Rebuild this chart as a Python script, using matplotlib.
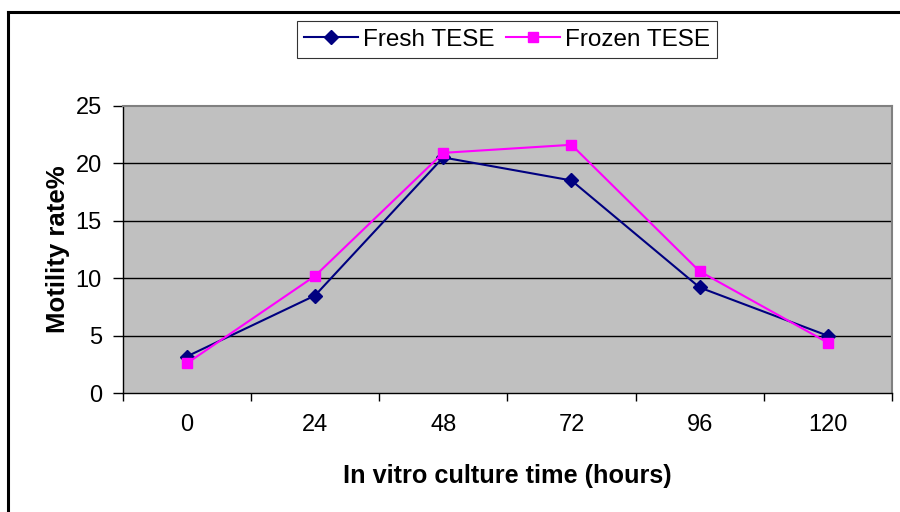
import matplotlib
matplotlib.use("Agg")
import matplotlib.pyplot as plt
from matplotlib.lines import Line2D

hours = ["0", "24", "48", "72", "96", "120"]
fresh = [3.2, 8.5, 20.5, 18.5, 9.2, 5.0]
frozen = [2.6, 10.2, 20.9, 21.6, 10.6, 4.4]
yticks = [0, 5, 10, 15, 20, 25]

plt.rcParams['font.family'] = ['Liberation Sans', 'DejaVu Sans']


def main():
    fig = plt.figure(figsize=(9, 5.12), dpi=100)
    ax = fig.add_axes([0.1363, 0.2318, 0.8548, 0.5618])
    ax.set_facecolor("#c0c0c0")

    x = list(range(len(hours)))
    ax.plot(x, fresh, color="#000080", marker="D", markersize=7.5, lw=1.5,
            label="Fresh TESE", zorder=3)
    ax.plot(x, frozen, color="#ff00ff", marker="s", markersize=7.5, lw=1.5,
            label="Frozen TESE", zorder=3)

    ax.set_xlim(-0.5, len(hours) - 0.5)
    ax.set_ylim(0, 25)
    ax.set_yticks(yticks)
    ax.set_yticklabels([str(t) for t in yticks], fontsize=17)
    for t in yticks[1:-1]:
        ax.axhline(t, color="black", lw=1.0, zorder=1)

    # category ticks sit between the categories
    ax.set_xticks([i - 0.5 for i in range(len(hours) + 1)])
    ax.set_xticklabels([])
    ax.set_xticks(x, minor=True)
    ax.set_xticklabels(hours, minor=True, fontsize=17)
    ax.tick_params(axis="x", which="minor", length=0, pad=15)
    ax.tick_params(axis="x", which="major", length=6, width=1, color="black")
    ax.tick_params(axis="y", length=7, width=1, color="black", pad=8)

    for side in ["left", "bottom"]:
        ax.spines[side].set_color("black")
        ax.spines[side].set_linewidth(1)
    for side in ["top", "right"]:
        ax.spines[side].set_color("#808080")
        ax.spines[side].set_linewidth(1.5)

    ax.set_xlabel("In vitro culture time (hours)", fontsize=18.2,
                  fontweight="bold", labelpad=20)
    ax.set_ylabel("Motility rate%", fontsize=18.5, fontweight="bold",
                  labelpad=4)

    leg = fig.legend(loc="center", bbox_to_anchor=(0.5635, 0.9228), ncol=2,
                     fontsize=17.5, frameon=True, fancybox=False,
                     handlelength=2.2, handletextpad=0.2, columnspacing=0.5,
                     borderpad=0.3)
    leg.get_frame().set_edgecolor("black")
    leg.get_frame().set_linewidth(0.8)

    # outer chart border (only top and left edges are visible)
    fig.add_artist(Line2D([7.5 / 900, 1], [1 - 11.5 / 512] * 2,
                          color="black", lw=2.2, transform=fig.transFigure))
    fig.add_artist(Line2D([7.5 / 900] * 2, [0, 1 - 11.5 / 512],
                          color="black", lw=2.2, transform=fig.transFigure))

    fig.savefig("out.png", dpi=100)


if __name__ == "__main__":
    main()
